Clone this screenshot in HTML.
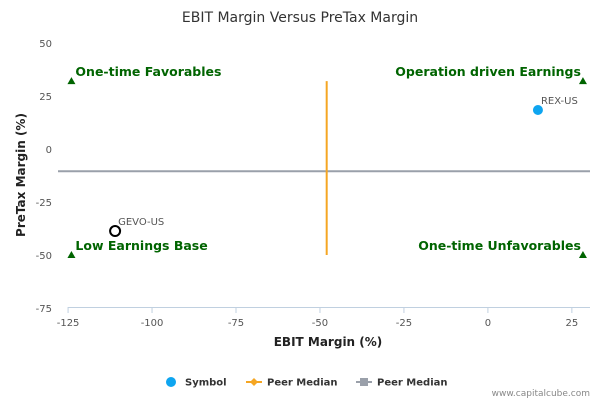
<!DOCTYPE html>
<html><head><meta charset="utf-8"><style>
body{margin:0;background:#fff;font-family:"Liberation Sans","DejaVu Sans",sans-serif}
svg text{font-family:"DejaVu Sans","Liberation Sans",sans-serif}
</style></head><body>
<svg id="chart" width="600" height="400" xmlns="http://www.w3.org/2000/svg">
<text x="300" y="22" text-anchor="middle" font-size="14" fill="#333">EBIT Margin Versus PreTax Margin</text>
<g id="axes"></g><g id="marks"></g>
<text x="328" y="346" text-anchor="middle" font-size="12" font-weight="bold" fill="#222">EBIT Margin (%)</text>
<text transform="translate(25,175) rotate(-90)" text-anchor="middle" font-size="12" font-weight="bold" fill="#222">PreTax Margin (%)</text>
<g font-size="10" font-weight="bold" fill="#333">
<g><circle cx="171" cy="382" r="5" fill="#0ea5f0"/><text x="185" y="385.5">Symbol</text></g>
<g><line x1="246" y1="382" x2="262" y2="382" stroke="#f5a623" stroke-width="2"/><path d="M254 378 L258 382 L254 386 L250 382Z" fill="#f5a623"/><text x="267" y="385.5">Peer Median</text></g>
<g><line x1="356" y1="382" x2="372" y2="382" stroke="#9aa0aa" stroke-width="2"/><rect x="360" y="378" width="8" height="8" fill="#9aa0aa"/><text x="377" y="385.5">Peer Median</text></g>
</g>
<text x="590" y="396" text-anchor="end" font-size="9" fill="#888">www.capitalcube.com</text>
</svg>
<script>
const xTicks=[-125,-100,-75,-50,-25,0,25];
const yTicks=[50,25,0,-25,-50,-75];
const symbols=["REX-US","GEVO-US"];
const ebit=[14.9,-111];
const pretax=[18.4,-38.7];
const peerEbit=-48;
const peerPretax=-10.5;
const quadrants=["One-time Favorables","Operation driven Earnings","Low Earnings Base","One-time Unfavorables"];
const xMin=-128,xMax=30.4,yMin=-75,yMax=50;
const X=v=>58+(v-xMin)/(xMax-xMin)*532;
const Y=v=>43+(yMax-v)/(yMax-yMin)*265;
const NS="http://www.w3.org/2000/svg";
function mk(t,a,p){const e=document.createElementNS(NS,t);for(const k in a)e.setAttribute(k,a[k]);p.appendChild(e);return e;}
const ax=document.getElementById('axes'),mg=document.getElementById('marks');
let l=mk('line',{x1:X(-125),y1:307.5,x2:590,y2:307.5,stroke:'#c0d0e0'},ax);


xTicks.forEach(v=>{
 const t=mk('line',{x1:X(v),x2:X(v),y1:307,y2:313,stroke:'#c0d0e0'},ax);
 
 
 const tx=mk('text',{x:X(v),y:326,'text-anchor':'middle','font-size':10,fill:'#555'},ax);
 tx.textContent=v;
 
 
});
yTicks.forEach(v=>{
 const tx=mk('text',{x:52,y:Y(v)+4,'text-anchor':'end','font-size':10,fill:'#555'},ax);
 tx.textContent=v;
 
 
});
const h=mk('line',{x1:58,x2:590,y1:Y(peerPretax),y2:Y(peerPretax),stroke:'#9aa0aa','stroke-width':2},mg);


const v=mk('line',{x1:X(peerEbit),x2:X(peerEbit),y1:Y(32),y2:Y(-50),stroke:'#f5a623','stroke-width':2},mg);


const qx=[-124,28.3,-124,28.3],qy=[32,32,-50,-50];
quadrants.forEach((q,i)=>{
 const px=X(qx[i]),py=Y(qy[i]);
 const tr=mk('path',{d:`M${px} ${py-4}L${px+4} ${py+3}L${px-4} ${py+3}Z`,fill:'#006400'},mg);
 
 
 const left=i%2==0;
 const tx=mk('text',{x:left?px+4:px-2,y:py-5,'text-anchor':left?'start':'end','font-size':12.5,'font-weight':'bold',fill:'#006400'},mg);
 tx.textContent=q;
 
 
});
symbols.forEach((s,i)=>{
 const cx=X(ebit[i]),cy=Y(pretax[i]);
 const c=mk('circle',i==0?{cx,cy,r:5,fill:'#0ea5f0'}:{cx,cy,r:5,fill:'#fff',stroke:'#000','stroke-width':2},mg);
 
 
 const tx=mk('text',{x:cx+3,y:cy-6,'font-size':10,fill:'#555'},mg);
 tx.textContent=s;
 
 
});
</script>
</body></html>
